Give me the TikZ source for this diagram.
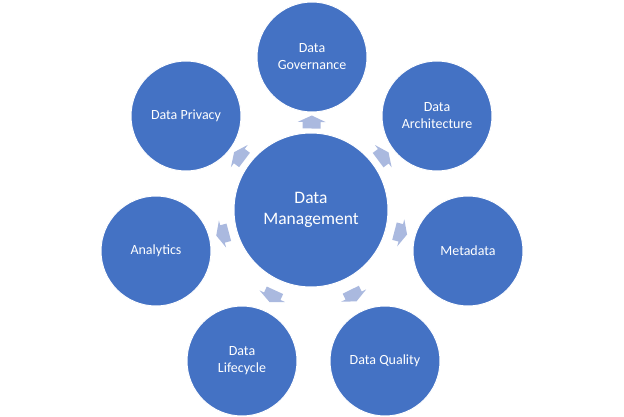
\documentclass[tikz,border=0pt]{standalone}
\usepackage{fontspec}
\setmainfont{Carlito}
\usetikzlibrary{calc}
\definecolor{circblue}{HTML}{4472C4}
\definecolor{arrowblue}{HTML}{AAB9DF}
\tikzset{
  outer/.style={circle, fill=circblue, draw=white, line width=1pt, minimum size=110pt, inner sep=0pt, text=white, align=center, font=\fontsize{14}{17}\selectfont},
  hub/.style={circle, fill=circblue, draw=white, line width=1pt, minimum size=154pt, inner sep=0pt, text=white, align=center, font=\fontsize{17.5}{21}\selectfont},
  blockarrow/.style={fill=arrowblue, draw=none}
}
\begin{document}
\begin{tikzpicture}[x=1pt,y=-1pt]
\useasboundingbox (0,0) rectangle (624,417);
\node[hub] (c) at (311,210) {Data\\Management};
\node[outer] (gov) at (312,57) {Data\\Governance};
\node[outer] (arch) at (437,116) {Data\\Architecture};
\node[outer] (meta) at (468,251) {Metadata};
\node[outer] (qual) at (385,361) {Data Quality};
\node[outer] (life) at (242,361) {Data\\Lifecycle};
\node[outer] (ana) at (156,251) {Analytics};
\node[outer] (priv) at (186,116) {Data Privacy};
\foreach \o in {gov,arch,meta,qual,life,ana,priv}{
  \fill[blockarrow] let \p1=($(\o)-(c)$), \n1={atan2(\y1,\x1)}, \n2={\n1+180}, \n3={\n1+90},
     \p2=($(c.\n1)!0.5!(\o.\n2)$) in
     ($(\p2)+(\n1:7pt)$) -- ($(\p2)+(\n1:0.5pt)+(\n3:14pt)$) -- ($(\p2)+(\n1:0.5pt)+(\n3:9pt)$)
     -- ($(\p2)+(\n1:-6pt)+(\n3:9pt)$) -- ($(\p2)+(\n1:-6pt)+(\n3:-9pt)$)
     -- ($(\p2)+(\n1:0.5pt)+(\n3:-9pt)$) -- ($(\p2)+(\n1:0.5pt)+(\n3:-14pt)$) -- cycle;
}
\end{tikzpicture}
\end{document}
